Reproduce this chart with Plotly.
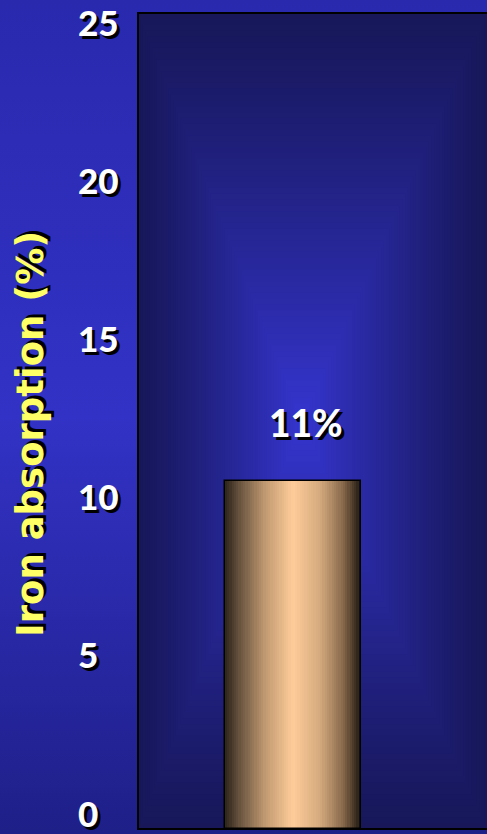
import base64
import plotly.graph_objects as go

# Data
categories = ["Iron"]
absorption = [11]
tick_values = [0, 5, 10, 15, 20, 25]
tick_labels = ["0", "5", "10", "15", "20", "25"]
axis_title = "Iron absorption (%)"

W, H = 487, 834
M_L, M_R, M_T, M_B = 138, 0, 13, 5
PW, PH = W - M_L - M_R, H - M_T - M_B

FONT = "Lato"
TITLE_FONT = "DejaVu Sans"
SHADOW = "3px 3px 0px #000000"


def hex_rgb(c):
    c = c.lstrip("#")
    return tuple(int(c[i:i + 2], 16) for i in (0, 2, 4))


def lerp(c1, c2, t):
    a, b = hex_rgb(c1), hex_rgb(c2)
    return "#%02x%02x%02x" % tuple(round(a[i] + (b[i] - a[i]) * t) for i in range(3))


def ramp(stops, u):
    for (u0, c0), (u1, c1) in zip(stops, stops[1:]):
        if u <= u1:
            return lerp(c0, c1, (u - u0) / (u1 - u0) if u1 > u0 else 0)
    return stops[-1][1]


def svg_uri(svg):
    return "data:image/svg+xml;base64," + base64.b64encode(svg.encode()).decode()


# Slide background: vertical blue gradient
paper_svg = (
    f'<svg xmlns="http://www.w3.org/2000/svg" width="{W}" height="{H}" '
    f'viewBox="0 0 {W} {H}" preserveAspectRatio="none">'
    '<defs><linearGradient id="g" x1="0" y1="0" x2="0" y2="1">'
    '<stop offset="0" stop-color="#2929ae"/>'
    '<stop offset="0.5" stop-color="#3232c6"/>'
    '<stop offset="1" stop-color="#1f1f88"/>'
    '</linearGradient></defs>'
    f'<rect width="{W}" height="{H}" fill="url(#g)"/></svg>'
)

# Plot area: rectangular "from centre" gradient built from nested rects
cx, cy = 0.47 * PW, 0.5 * PH
n_levels = 70
rects = []
for k in range(n_levels):
    t = k / n_levels
    x0, y0 = t * cx, t * cy
    x1, y1 = PW - t * (PW - cx), PH - t * (PH - cy)
    col = lerp("#17175a", "#3535d0", t ** 1.15)
    rects.append(f'<rect x="{x0:.2f}" y="{y0:.2f}" width="{x1 - x0:.2f}" '
                 f'height="{y1 - y0:.2f}" fill="{col}"/>')
plot_svg = (
    f'<svg xmlns="http://www.w3.org/2000/svg" width="{PW}" height="{PH}" '
    f'viewBox="0 0 {PW} {PH}" preserveAspectRatio="none">' + "".join(rects) + '</svg>'
)

fig = go.Figure()

# Bar geometry on a numeric x axis spanning the plot width
bar_center = 0.444
bar_width = 0.39
n_strips = 60
bar_stops = [(0.0, "#2b231a"), (0.12, "#6e5842"), (0.3, "#c29b72"), (0.5, "#ffcc99"),
             (0.7, "#d4aa7e"), (0.87, "#86684a"), (1.0, "#1e1710")]

value = absorption[0]
strip_w = bar_width / n_strips
strip_x = [bar_center - bar_width / 2 + (i + 0.5) * strip_w for i in range(n_strips)]
strip_colors = [ramp(bar_stops, (i + 0.5) / n_strips) for i in range(n_strips)]

# Shaded cylinder body
fig.add_trace(go.Bar(
    x=strip_x, y=[value] * n_strips, width=[strip_w * 1.02] * n_strips,
    marker=dict(color=strip_colors, line=dict(width=0)),
    hoverinfo="skip", showlegend=False,
))
# Outline
fig.add_trace(go.Bar(
    x=[bar_center], y=absorption, width=[bar_width], name=categories[0],
    marker=dict(color="rgba(0,0,0,0)", line=dict(color="#000000", width=1.5)),
    showlegend=False,
))

annotations = []
# Y tick labels (left aligned)
for v, lab in zip(tick_values, tick_labels):
    annotations.append(dict(
        x=(77 - M_L) / PW, xref="paper", xanchor="left",
        y=v, yref="y", yanchor="middle", yshift=16.5, borderpad=0,
        text=lab, showarrow=False,
        font=dict(family=FONT, size=35, color="#ffffff", weight=900, shadow=SHADOW),
    ))
# Axis title
annotations.append(dict(
    x=(31 - M_L) / PW, xref="paper", xanchor="center",
    y=(PH - (434 - M_T)) / PH, yref="paper", yanchor="middle",
    text=axis_title, textangle=-90, showarrow=False,
    font=dict(family=TITLE_FONT, size=37, color="#ffff66", weight="bold", shadow=SHADOW),
))
# Value label above the bar
annotations.append(dict(
    x=bar_center, xref="x", y=value, yref="y", yanchor="bottom",
    yshift=34, xshift=13, text=f"{value:g}%", showarrow=False,
    font=dict(family=FONT, size=37, color="#ffffff", weight=900, shadow=SHADOW),
))

fig.update_layout(
    width=W, height=H,
    margin=dict(l=M_L, r=M_R, t=M_T, b=M_B, pad=0),
    paper_bgcolor="#2c2cb8", plot_bgcolor="rgba(0,0,0,0)",
    barmode="overlay", bargap=0,
    showlegend=False,
    xaxis=dict(range=[0, 1], visible=False, fixedrange=True),
    yaxis=dict(range=[0, 25.79], showticklabels=False, showgrid=False,
               zeroline=False, showline=False, ticks="", fixedrange=True),
    images=[
        dict(source=svg_uri(paper_svg), xref="paper", yref="paper",
             x=-M_L / PW, y=1 + M_T / PH, sizex=W / PW, sizey=H / PH,
             xanchor="left", yanchor="top", sizing="stretch", layer="below"),
        dict(source=svg_uri(plot_svg), xref="paper", yref="paper",
             x=0, y=1, sizex=1, sizey=1,
             xanchor="left", yanchor="top", sizing="stretch", layer="below"),
    ],
    shapes=[
        dict(type="rect", xref="paper", yref="paper", x0=0, x1=1.05, y0=0, y1=1,
             line=dict(color="#000000", width=2), fillcolor="rgba(0,0,0,0)", layer="above"),
    ],
    annotations=annotations,
)

fig.write_html("out.html", config={"displayModeBar": False})
